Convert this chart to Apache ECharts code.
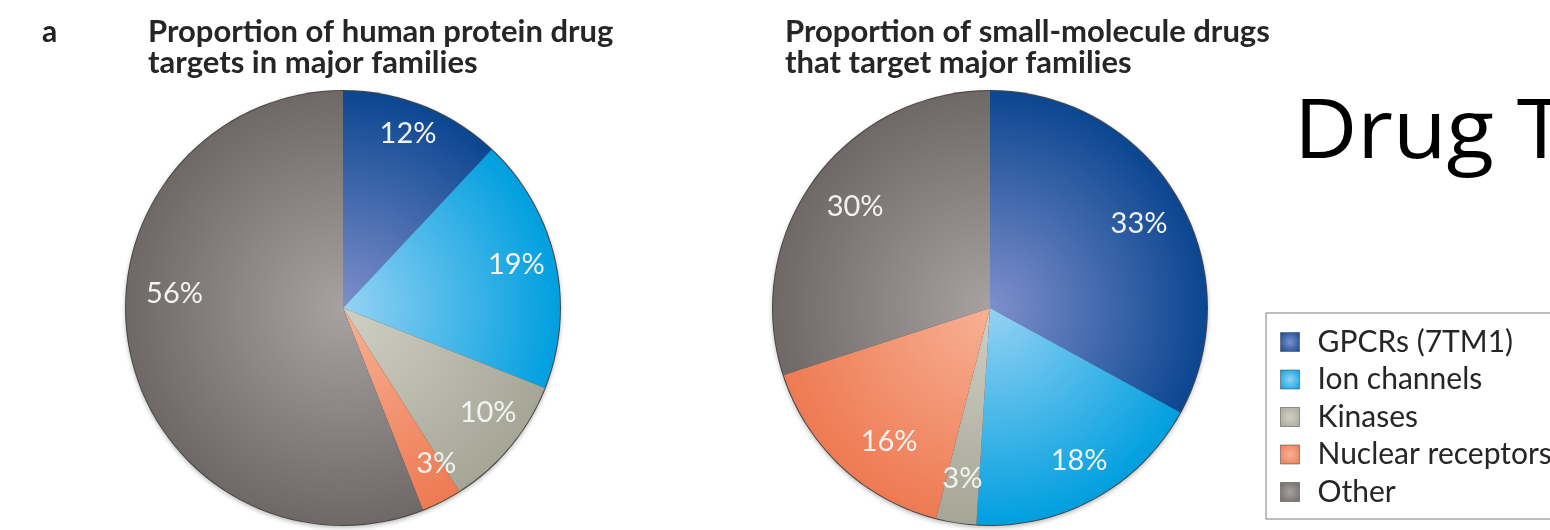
<!DOCTYPE html>
<html>
<head>
<meta charset="utf-8">
<script src="https://cdn.jsdelivr.net/npm/echarts@6/dist/echarts.min.js"></script>
<style>
  html, body { margin: 0; padding: 0; background: #ffffff; }
  #chart { width: 1550px; height: 530px; }
</style>
</head>
<body>
<div id="chart"></div>
<script>
// Protein families shared by both pies (also the legend entries)
const families = ['GPCRs (7TM1)', 'Ion channels', 'Kinases', 'Nuclear receptors', 'Other'];

// Share of human protein drug targets per family (%)
const targetShare = [12, 19, 10, 3, 56];

// Share of small-molecule drugs per targeted family (%)
const drugShare = [33, 18, 3, 16, 30];

const panelLetter = 'a';
const leftTitle = 'Proportion of human protein drug\ntargets in major families';
const rightTitle = 'Proportion of small-molecule drugs\nthat target major families';
const headline = 'Drug T';

// Hand placement tweaks for the percentage labels, in px (dx, dy)
const leftLabelNudge = [[0, -10], [1, -5], [9, -8], [13, -2], [5, -47]];
const rightLabelNudge = [[-3, 6], [4, -2], [0, -4], [20, 5], [8, 2]];

// Light (centre) and dark (rim) shades of each family colour
const innerShades = ['#7f8fcc', '#95d2f4', '#cfd0c4', '#f7b195', '#a7a2a0'];
const outerShades = ['#0b4690', '#009fdf', '#a6a697', '#ee7a52', '#6e6866'];

const FONT = 'Lato, "Open Sans", sans-serif';
const R = 217;
const leftCenter = [343, 308];
const rightCenter = [990, 308];

function radialFill(i, center) {
  return {
    type: 'radial', x: center[0], y: center[1], r: R, global: true,
    colorStops: [
      { offset: 0, color: innerShades[i] },
      { offset: 1, color: outerShades[i] }
    ]
  };
}

function pieData(values, center) {
  return families.map((name, i) => ({
    name, value: values[i], itemStyle: { color: radialFill(i, center) }
  }));
}

function labelData(values) {
  return families.map((name, i) => ({ name, value: values[i] }));
}

// Thin dark rim drawn beneath each pie
function rimSeries(center) {
  return {
    type: 'pie', silent: true, z: 1, center, radius: R + 1,
    label: { show: false }, labelLine: { show: false },
    itemStyle: { color: '#4a4646', shadowColor: 'rgba(0,0,0,0.25)', shadowBlur: 4, shadowOffsetY: 2 },
    data: [{ value: 1, name: '' }], legendHoverLink: false
  };
}

function sliceSeries(values, center) {
  return {
    type: 'pie', z: 2, center, radius: [0, R], startAngle: 90, clockwise: true,
    animation: false, silent: true,
    label: { show: false }, labelLine: { show: false },
    emphasis: { disabled: true },
    data: pieData(values, center)
  };
}

// Percentage labels sit on a transparent ring so they land at ~80% of the radius
function labelSeries(values, center, nudge) {
  return {
    type: 'pie', z: 3, center, radius: [R * 0.6, R], startAngle: 90, clockwise: true,
    animation: false, silent: true,
    itemStyle: { color: 'transparent' },
    emphasis: { disabled: true },
    labelLine: { show: false },
    label: {
      show: true, position: 'inside', formatter: '{c}%',
      color: '#f2f2f0', fontFamily: FONT, fontSize: 29, fontWeight: 'normal'
    },
    labelLayout: (p) => ({ dx: nudge[p.dataIndex][0], dy: nudge[p.dataIndex][1] }),
    data: labelData(values)
  };
}

const legendData = families.map((name, i) => ({
  name,
  itemStyle: {
    color: {
      type: 'radial', x: 0.5, y: 0.5, r: 0.7,
      colorStops: [
        { offset: 0, color: innerShades[i] },
        { offset: 1, color: outerShades[i] }
      ]
    },
    borderColor: 'rgba(60,60,60,0.5)', borderWidth: 1
  }
}));

const chart = echarts.init(document.getElementById('chart'), null, { renderer: 'canvas' });

chart.setOption({
  animation: false,
  backgroundColor: '#ffffff',
  title: [
    { text: panelLetter, left: 37, top: 12,
      textStyle: { fontFamily: FONT, fontSize: 30, fontWeight: 'bold', color: '#222' } },
    { text: leftTitle, left: 143, top: 11,
      textStyle: { fontFamily: FONT, fontSize: 31, fontWeight: 'bold', color: '#262626', lineHeight: 31 } },
    { text: rightTitle, left: 780, top: 11,
      textStyle: { fontFamily: FONT, fontSize: 31, fontWeight: 'bold', color: '#262626', lineHeight: 31 } }
  ],
  legend: {
    orient: 'vertical', left: 1266, top: 313,
    data: legendData,
    icon: 'rect', itemWidth: 19, itemHeight: 19, itemGap: 7.5,
    borderColor: '#7d7d7d', borderWidth: 1,
    padding: [14, 80, 12, 14],
    selectedMode: false,
    textStyle: { fontFamily: FONT, fontSize: 30, lineHeight: 28, color: '#262626', padding: [0, 0, 0, 13] }
  },
  graphic: [
    { type: 'text', left: 1294, top: 94, scaleX: 1.065,
      style: { text: headline, fontFamily: '"Open Sans", sans-serif', fontSize: 82, fill: '#000' } }
  ],
  series: [
    rimSeries(leftCenter), sliceSeries(targetShare, leftCenter), labelSeries(targetShare, leftCenter, leftLabelNudge),
    rimSeries(rightCenter), sliceSeries(drugShare, rightCenter), labelSeries(drugShare, rightCenter, rightLabelNudge)
  ]
});
</script>
</body>
</html>
